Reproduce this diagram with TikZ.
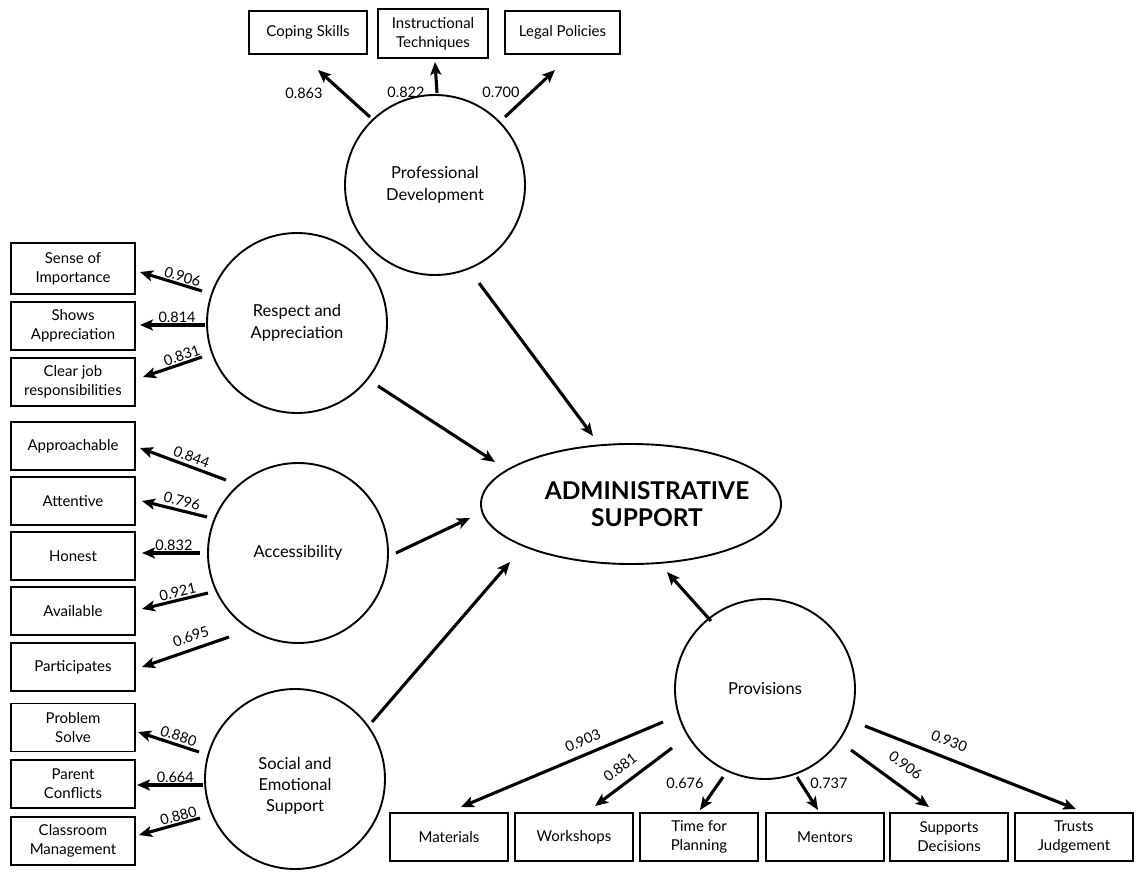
\documentclass[tikz,border=0pt]{standalone}
\usepackage{fontspec}
\setmainfont{Lato}
\usetikzlibrary{arrows.meta,calc,shapes.geometric}

\begin{document}
\begin{tikzpicture}[x=1pt,y=-1pt,
  factor/.style={circle,draw,line width=1.9pt,minimum size=180pt,inner sep=0pt,outer sep=0pt,align=center,font=\fontsize{16.5}{22}\selectfont},
  item/.style={rectangle,draw,line width=1.6pt,inner sep=0pt,outer sep=0pt,align=center,font=\fontsize{15}{19}\selectfont},
  lbox/.style={item,minimum width=124pt,minimum height=48pt},
  bbox/.style={item,minimum width=118pt,minimum height=48pt},
  arr/.style={line width=3.1pt,-{Stealth[length=13pt,width=11pt,inset=3pt]}},
  num/.style={font=\fontsize{14.5}{17}\selectfont,inner sep=1pt},
  onl/.style={num,sloped,above=#1},
  onl/.default=0pt,
]
\useasboundingbox (0,0) rectangle (1138,873);

% latent factors
\node[factor] (PD) at (435,185) {Professional\\Development};
\node[factor] (RA) at (297,323) {Respect and\\Appreciation};
\node[factor] (Acc) at (298,553) {Accessibility};
\node[factor] (SES) at (295,779) {};
\node[align=center,font=\fontsize{16.5}{21}\selectfont] (SEStext) at (295,786) {Social and\\Emotional\\Support};
\node[factor] (Prov) at (765,689) {Provisions};

% outcome
\node[ellipse,draw,line width=1.9pt,minimum width=300pt,minimum height=120pt,inner sep=0pt] (AS) at (631,504) {};
\node[align=center,font=\fontsize{24.5}{27}\selectfont\bfseries] (AStext) at (647,504) {ADMINISTRATIVE\\SUPPORT};

% professional development indicators
\node[item,minimum width=118pt,minimum height=43pt] (Coping) at (308,32.5) {Coping Skills};
\node[item,minimum width=110pt,minimum height=49pt] (Instr) at (433,33.5) {Instructional\\Techniques};
\node[item,minimum width=115pt,minimum height=43pt] (Legal) at (562.5,32.5) {Legal Policies};

% left column indicators
\node[lbox,minimum height=51pt] (Sense) at (73,268.5) {Sense of\\Importance};
\node[lbox] (Shows) at (73,326) {Shows\\Appreciation};
\node[lbox] (Clear) at (73,382) {Clear job\\responsibilities};
\node[lbox] (Appr) at (73,446) {Approachable};
\node[lbox] (Att) at (73,501) {Attentive};
\node[lbox] (Hon) at (73,556) {Honest};
\node[lbox] (Avail) at (73,611) {Available};
\node[lbox] (Part) at (73,667) {Participates};
\node[lbox] (Prob) at (73,727.5) {Problem\\Solve};
\node[lbox] (Par) at (73,784) {Parent\\Conflicts};
\node[lbox] (Class) at (73,841) {Classroom\\Management};

% provisions indicators
\node[bbox] (Mat) at (449,837) {Materials};
\node[bbox] (Work) at (574,837) {Workshops};
\node[bbox] (Time) at (699,837) {Time for\\Planning};
\node[bbox] (Ment) at (825,837) {Mentors};
\node[bbox] (Supp) at (949,837) {Supports\\Decisions};
\node[bbox] (Trust) at (1074,837) {Trusts\\Judgement};

% structural paths
\draw[arr] ($(PD)+(44,98)$) -- ($(AS)+(-38,-68)$);
\draw[arr] ($(RA)+(81,63)$) -- ($(AS)+(-136,-42)$);
\draw[arr] ($(Acc)+(98,0)$) -- ($(AS)+(-161,14)$);
\draw[arr] ($(SES)+(77,-57)$) -- ($(AS)+(-121,58)$);
\draw[arr] ($(Prov)+(-54,-68)$) -- ($(AS)+(36,68)$);

% professional development loadings
\draw[arr] ($(PD)+(-65,-68)$) -- ($(Coping.south)+(10,16)$);
\draw[arr] ($(PD)+(2,-92)$) -- ($(Instr.south)+(2,4)$);
\draw[arr] ($(PD)+(70,-68)$) -- ($(Legal.south)+(-7.5,16)$);
\node[num] (l863) at (304,93) {0.863};
\node[num] (l822) at (406,92) {0.822};
\node[num] (l700) at (501,92) {0.700};

% respect and appreciation loadings
\draw[arr] ($(RA)+(-95,-32)$) -- node[onl,pos=0.35]{0.906} ($(Sense.east)+(5,3.5)$);
\draw[arr] ($(RA)+(-92,2)$) -- node[onl,pos=0.43]{0.814} ($(Shows.east)+(5,-1)$);
\draw[arr] ($(RA)+(-95,34)$) -- node[onl,pos=0.30]{0.831} ($(Clear.east)+(8,-5)$);

% accessibility loadings
\draw[arr] ($(Acc)+(-72,-73)$) -- node[onl=2pt,pos=0.44]{0.844} ($(Appr.east)+(5,2)$);
\draw[arr] ($(Acc)+(-91,-36)$) -- node[onl=2pt,pos=0.42]{0.796} ($(Att.east)+(7,0)$);
\draw[arr] ($(Acc)+(-98,0)$) -- node[onl,pos=0.45]{0.832} ($(Hon.east)+(7,-3)$);
\draw[arr] ($(Acc)+(-90,40)$) -- node[onl,pos=0.43]{0.921} ($(Avail.east)+(7,-2)$);
\draw[arr] ($(Acc)+(-69,84)$) -- node[onl=5pt,pos=0.39]{0.695} ($(Part.east)+(7,0)$);

% social and emotional support loadings
\draw[arr] ($(SES)+(-96,-27)$) -- node[onl=1pt,pos=0.38]{0.880} ($(Prob.east)+(3,4.5)$);
\draw[arr] ($(SES)+(-92,6)$) -- node[onl,pos=0.42]{0.664} ($(Par.east)+(2,1)$);
\draw[arr] ($(SES)+(-95,39)$) -- node[onl,pos=0.32]{0.880} ($(Class.east)+(4,-6)$);

% provisions loadings
\draw[arr] ($(Prov)+(-102,33)$) -- node[onl=6pt,pos=0.37]{0.903} ($(Mat.north)+(12,-6)$);
\draw[arr] ($(Prov)+(-93,59)$) -- node[onl=8pt,pos=0.55]{0.881} ($(Work.north)+(21,-7)$);
\draw[arr] ($(Prov)+(-42,88)$) -- ($(Time.north)+(1,-3)$);
\draw[arr] ($(Prov)+(32,88)$) -- ($(Ment.north)+(-7,-3)$);
\draw[arr] ($(Prov)+(86,61)$) -- node[onl=12pt,pos=0.55]{0.906} ($(Supp.north)+(-20,-6)$);
\draw[arr] ($(Prov)+(100,37)$) -- node[onl=9pt,pos=0.37]{0.930} ($(Trust.north)+(2,-4)$);
\node[num] (l676) at (685,783) {0.676};
\node[num] (l737) at (829,783) {0.737};
\end{tikzpicture}
\end{document}
